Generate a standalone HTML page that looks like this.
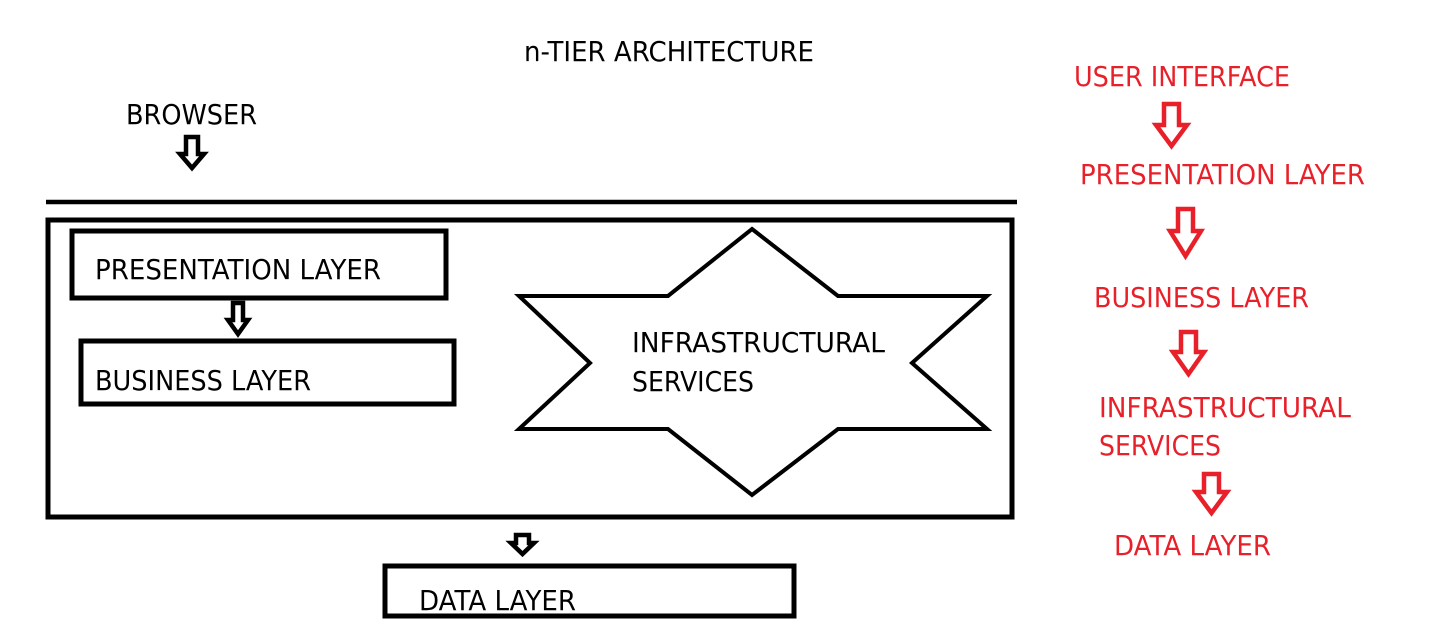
<!DOCTYPE html>
<html><head><meta charset="utf-8"><style>
html,body{margin:0;padding:0;background:#fff;}
svg{display:block;}
text{font-family:"DejaVu Sans","Liberation Sans",sans-serif;font-size:28px;}
</style></head><body>
<svg width="1443" height="633" viewBox="0 0 1443 633" xmlns="http://www.w3.org/2000/svg">
<rect width="1443" height="633" fill="#fff"/>
<g fill="#000">
<text x="524" y="61" textLength="290" lengthAdjust="spacingAndGlyphs">n-TIER ARCHITECTURE</text>
<text x="126" y="124" textLength="131" lengthAdjust="spacingAndGlyphs">BROWSER</text>
<text x="95" y="279" textLength="286" lengthAdjust="spacingAndGlyphs">PRESENTATION LAYER</text>
<text x="95" y="390" textLength="216" lengthAdjust="spacingAndGlyphs">BUSINESS LAYER</text>
<text x="632" y="352" textLength="253" lengthAdjust="spacingAndGlyphs">INFRASTRUCTURAL</text>
<text x="632" y="391" textLength="122" lengthAdjust="spacingAndGlyphs">SERVICES</text>
<text x="419" y="610" textLength="157" lengthAdjust="spacingAndGlyphs">DATA LAYER</text>
</g>
<g fill="none" stroke="#000" stroke-width="5">
<line x1="46" y1="202" x2="1017" y2="202" stroke-width="4.5"/>
<rect x="48" y="220" width="964" height="297"/>
<rect x="72" y="231" width="374" height="67"/>
<rect x="81" y="341" width="373" height="63"/>
<rect x="385" y="566" width="409" height="50"/>
<polygon points="752,229 838,296 987,296 912,363 987,429 838,429 752,495 668,429 519,429 590,363 519,296 668,296" stroke-width="4"/>
</g>
<g fill="#fff" stroke="#000" stroke-width="4.5" stroke-linejoin="miter">
<path d="M186,137 H198 V154 H204 L192,168 L180,154 H186 Z"/>
<path d="M233,303 H243 V320 H248 L238,334 L228,320 H233 Z"/>
<path d="M516,535 H529 V543 H534 L522.5,554 L511,543 H516 Z"/>
</g>
<g fill="#e8202a">
<text x="1074" y="86" textLength="216" lengthAdjust="spacingAndGlyphs">USER INTERFACE</text>
<text x="1080" y="184" textLength="285" lengthAdjust="spacingAndGlyphs">PRESENTATION LAYER</text>
<text x="1094" y="307" textLength="215" lengthAdjust="spacingAndGlyphs">BUSINESS LAYER</text>
<text x="1099" y="417" textLength="252" lengthAdjust="spacingAndGlyphs">INFRASTRUCTURAL</text>
<text x="1099" y="455" textLength="122" lengthAdjust="spacingAndGlyphs">SERVICES</text>
<text x="1114" y="555" textLength="157" lengthAdjust="spacingAndGlyphs">DATA LAYER</text>
</g>
<g fill="#fff" stroke="#e8202a" stroke-width="4.5">
<path d="M1164,104 H1179 V125 H1187 L1171.5,146 L1156,125 H1164 Z"/>
<path d="M1178,209 H1193 V231 H1201 L1185.5,256 L1170,231 H1178 Z"/>
<path d="M1181,332 H1196 V352 H1204 L1188.5,374 L1173,352 H1181 Z"/>
<path d="M1204,474 H1219 V492 H1227 L1211.5,513 L1196,492 H1204 Z"/>
</g>
</svg>
</body></html>
